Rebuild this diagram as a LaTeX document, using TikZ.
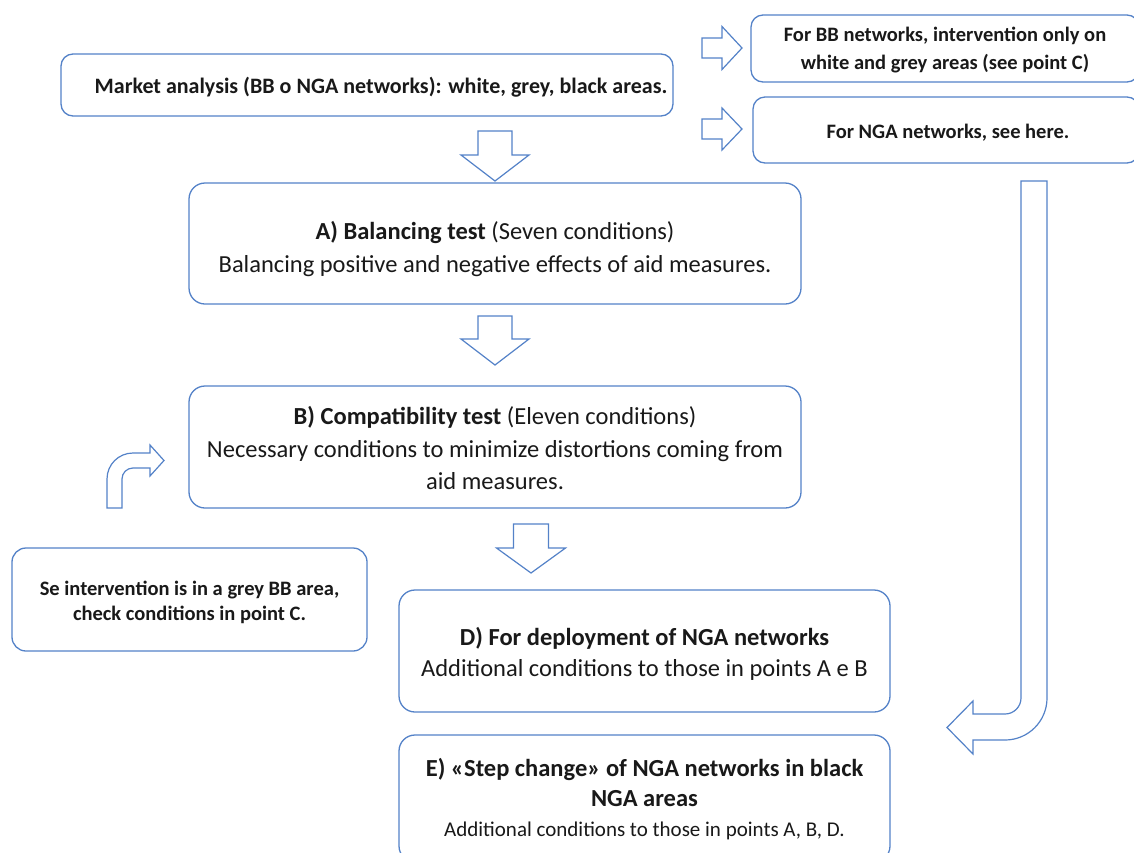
\documentclass[tikz,border=0pt]{standalone}
\usepackage{fontspec}
\setmainfont{Carlito}
\definecolor{boxblue}{RGB}{84,130,200}
\definecolor{ink}{RGB}{25,25,25}

% block arrow pointing down: centre x, top, neck, tip, shaft half-width, head half-width
\newcommand{\blockdown}[6]{%
  \draw[blockarrow] (#1-#5,#2) -- (#1+#5,#2) -- (#1+#5,#3) -- (#1+#6,#3)
    -- (#1,#4) -- (#1-#6,#3) -- (#1-#5,#3) -- cycle;}
% block arrow pointing right: centre y, left, neck, tip, shaft half-width, head half-width
\newcommand{\blockright}[6]{%
  \draw[blockarrow] (#2,#1-#5) -- (#3,#1-#5) -- (#3,#1-#6) -- (#4,#1)
    -- (#3,#1+#6) -- (#3,#1+#5) -- (#2,#1+#5) -- cycle;}

\begin{document}
\begin{tikzpicture}[x=1pt,y=-1pt,
  box/.style={draw=boxblue, line width=1.3pt, rounded corners=16pt,
    inner sep=0pt, fill=white},
  boxtext/.style={align=center, inner sep=0pt, text=ink},
  blockarrow/.style={draw=boxblue, line width=1.2pt, line join=miter, fill=white}]
\useasboundingbox (0,0) rectangle (1134,852);
\fill[white] (0,0) rectangle (1134,852);
\clip (0,0) rectangle (1134,852);

% frames
\node[box, rounded corners=12pt, minimum width=612pt, minimum height=62pt] (market) at (367,85) {};
\node[box, rounded corners=12pt, minimum width=388pt, minimum height=67pt] (bb) at (945,48.5) {};
\node[box, rounded corners=12pt, minimum width=386pt, minimum height=66pt] (nga) at (946,130) {};
\node[box, minimum width=612pt, minimum height=121pt] (A) at (495,243.5) {};
\node[box, minimum width=612pt, minimum height=122pt] (B) at (495,447) {};
\node[box, rounded corners=14pt, minimum width=355pt, minimum height=103pt] (se) at (189.5,599.5) {};
\node[box, minimum width=491pt, minimum height=122pt] (D) at (644.5,651) {};
\node[box, minimum width=491pt, minimum height=127pt] (E) at (644.5,798.5) {};

% texts
\node[boxtext, font={\fontsize{22}{26}\selectfont\bfseries}] (market-text) at (381,87)
  {Market analysis (BB o NGA networks): white, grey, black areas.};
\node[boxtext, font={\fontsize{20.5}{28}\selectfont\bfseries}] (bb-text) at (945,50.5)
  {For BB networks, intervention only on\\ white and grey areas (see point C)};
\node[boxtext, font={\fontsize{20.5}{25}\selectfont\bfseries}] (nga-text) at (948,132.5)
  {For NGA networks, see here.};
\node[boxtext, font={\fontsize{24.5}{33}\selectfont}] (A-text) at (495,249.5)
  {\textbf{A) Balancing test} (Seven conditions)\\
   Balancing positive and negative effects of aid measures.};
\node[boxtext, font={\fontsize{24.5}{32.5}\selectfont}] (B-text) at (495,448)
  {\textbf{B) Compatibility test} (Eleven conditions)\\
   Necessary conditions to minimize distortions coming from\\ aid measures.};
\node[boxtext, font={\fontsize{20.5}{25}\selectfont\bfseries}] (se-text) at (189.5,602.5)
  {Se intervention is in a grey BB area,\\ check conditions in point C.};
\node[boxtext, font={\fontsize{24.5}{31}\selectfont}] (D-text) at (644.5,654)
  {\textbf{D) For deployment of NGA networks}\\
   Additional conditions to those in points A e B};
\node[boxtext, font={\fontsize{24.5}{30}\selectfont}] (E-text) at (644.5,799.5)
  {\textbf{E) «Step change» of NGA networks in black}\\
   \textbf{NGA areas}\\
   {\fontsize{21}{29}\selectfont Additional conditions to those in points A, B, D.}};

% straight block arrows
\blockdown{495}{131}{155}{181}{17}{34}
\blockdown{495}{316}{339}{365}{17}{34}
\blockdown{531}{524}{548}{573}{17.5}{34.5}
\blockright{48}{702}{722}{742}{10}{21.5}
\blockright{129}{702}{722}{742}{10}{21}

% bent arrow turning right towards box B
\draw[blockarrow] (107,508) -- (107,479)
  .. controls (107,464.6) and (118.6,453) .. (133,453)
  -- (150,453) -- (150,445) -- (164,460.5) -- (150,476) -- (150,468) -- (133,468)
  .. controls (126.9,468) and (122,472.9) .. (122,479)
  -- (122,508) -- cycle;

% long arrow from the NGA box down and back to box E
\draw[blockarrow] (1021,181) -- (1047,181) -- (1047,698)
  .. controls (1047,721.2) and (1028.2,740) .. (1005,740)
  -- (973,740) -- (973,754) -- (947,727.5) -- (973,701) -- (973,714) -- (1005,714)
  .. controls (1013.8,714) and (1021,706.8) .. (1021,698) -- cycle;
\end{tikzpicture}
\end{document}
